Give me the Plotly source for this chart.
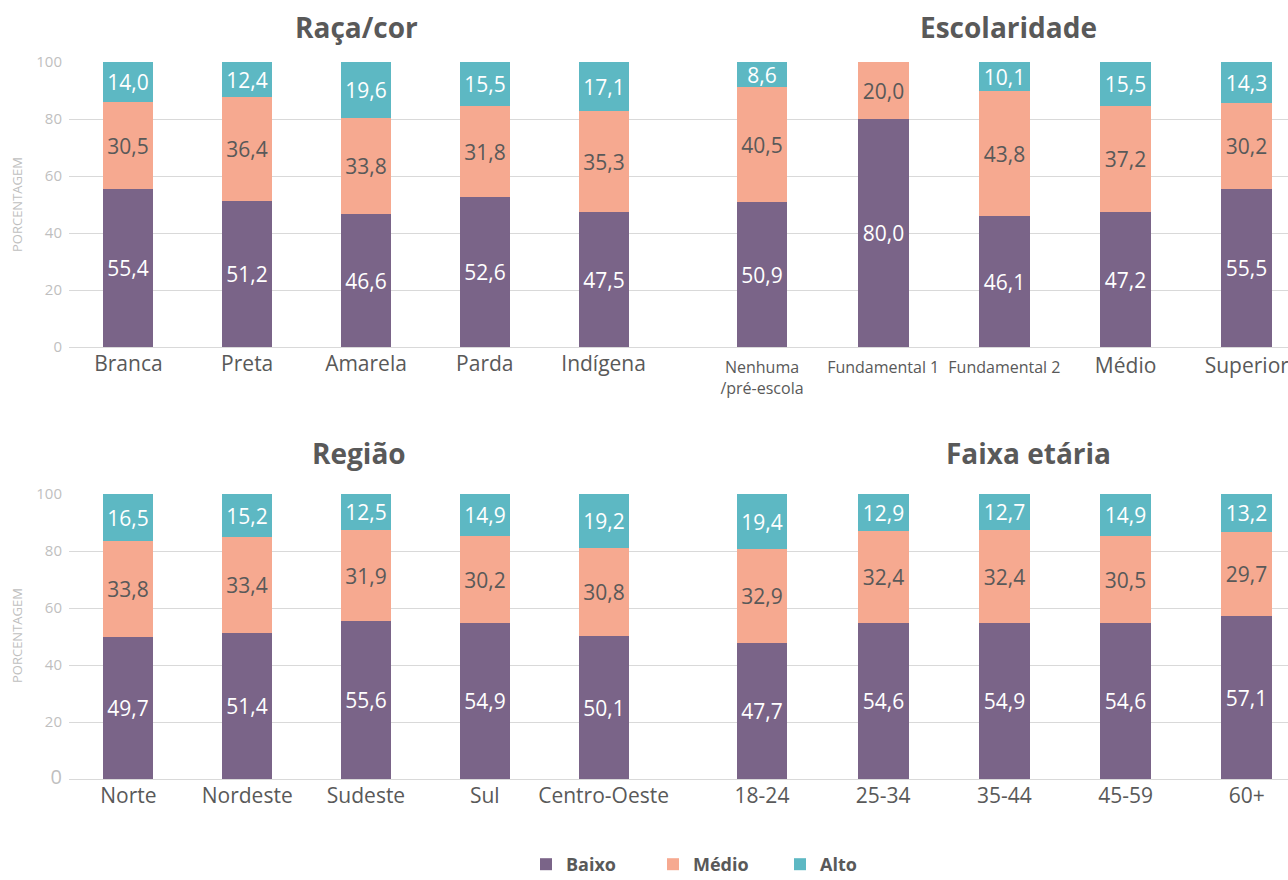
import plotly.graph_objects as go

# ---------------- data ----------------
levels = ["Baixo", "Médio", "Alto"]

raca_cats = ["Branca", "Preta", "Amarela", "Parda", "Indígena"]
raca_baixo = [55.4, 51.2, 46.6, 52.6, 47.5]
raca_medio = [30.5, 36.4, 33.8, 31.8, 35.3]
raca_alto = [14.0, 12.4, 19.6, 15.5, 17.1]

esc_cats = ["Nenhuma/pré-escola", "Fundamental 1", "Fundamental 2", "Médio", "Superior"]
esc_baixo = [50.9, 80.0, 46.1, 47.2, 55.5]
esc_medio = [40.5, 20.0, 43.8, 37.2, 30.2]
esc_alto = [8.6, None, 10.1, 15.5, 14.3]

reg_cats = ["Norte", "Nordeste", "Sudeste", "Sul", "Centro-Oeste"]
reg_baixo = [49.7, 51.4, 55.6, 54.9, 50.1]
reg_medio = [33.8, 33.4, 31.9, 30.2, 30.8]
reg_alto = [16.5, 15.2, 12.5, 14.9, 19.2]

idade_cats = ["18-24", "25-34", "35-44", "45-59", "60+"]
idade_baixo = [47.7, 54.6, 54.9, 54.6, 57.1]
idade_medio = [32.9, 32.4, 32.4, 30.5, 29.7]
idade_alto = [19.4, 12.9, 12.7, 14.9, 13.2]

y_ticks = [0, 20, 40, 60, 80, 100]

# ---------------- style ----------------
FONT = "Open Sans"
colors = {"Baixo": "#7A6488", "Médio": "#F6A990", "Alto": "#5DB8C3"}
text_colors = {"Baixo": "white", "Médio": "#595959", "Alto": "white"}
GRID = "#D9D9D9"
LABEL = "#595959"
TICK = "#BFBFBF"
W, H = 1288, 880


def fmt(v):
    return "" if v is None else f"{v:.1f}".replace(".", ",")


panels = [
    ("x", "y", raca_cats, [raca_baixo, raca_medio, raca_alto], True),
    ("x2", "y2", esc_cats, [esc_baixo, esc_medio, esc_alto], False),
    ("x3", "y3", reg_cats, [reg_baixo, reg_medio, reg_alto], False),
    ("x4", "y4", idade_cats, [idade_baixo, idade_medio, idade_alto], False),
]

fig = go.Figure()
for xa, ya, cats, series, show in panels:
    for lvl, vals in zip(levels, series):
        fig.add_trace(go.Bar(
            x=cats, y=vals, name=f"<b>{lvl}</b>", legendgroup=lvl, showlegend=show,
            xaxis=xa, yaxis=ya, width=0.42,
            marker=dict(color=colors[lvl], line=dict(width=0)),
            text=[fmt(v) for v in vals], textposition="inside",
            insidetextanchor="middle", textangle=0,
            textfont=dict(family=FONT, size=21, color=text_colors[lvl]),
            hoverinfo="skip",
        ))

left_dom = [69 / W, 682 / W]
right_dom = [682 / W, 1.0]
top_dom = [1 - 347 / H, 1 - 62 / H]
bot_dom = [1 - 779 / H, 1 - 494 / H]


def xaxis(dom, anchor, cats, rng, size=21, ticktext=None, standoff=2):
    d = dict(domain=dom, anchor=anchor, type="category", categoryarray=cats,
             range=rng, showgrid=False, showline=False, zeroline=False,
             ticks="", automargin=False, ticklabelstandoff=standoff,
             tickfont=dict(family=FONT, size=size, color=LABEL),
             fixedrange=True)
    if ticktext is not None:
        d.update(tickmode="array", tickvals=cats, ticktext=ticktext)
    return d


def yaxis(dom, anchor, labels, ticktext=None):
    d = dict(domain=dom, anchor=anchor, range=[0, 100], tickmode="array",
             tickvals=y_ticks, showgrid=True, gridcolor=GRID, gridwidth=1,
             zeroline=True, zerolinecolor=GRID, zerolinewidth=1,
             showline=False, ticks="", showticklabels=labels,
             ticklabelstandoff=6, automargin=False,
             tickfont=dict(family=FONT, size=15, color=TICK), fixedrange=True)
    if ticktext is not None:
        d["ticktext"] = ticktext
    return d


esc_ticktext = [
    "Nenhuma<br>/pré-escola", "Fundamental 1", "Fundamental 2",
    "<span style='font-size:21px'>Médio</span>",
    "<span style='font-size:21px'>Superior</span>",
]
bot_ytext = ["<span style='font-size:20px'>0</span>"] + [str(v) for v in y_ticks[1:]]

fig.update_layout(
    width=W, height=H,
    margin=dict(l=0, r=0, t=0, b=0, autoexpand=False),
    paper_bgcolor="white", plot_bgcolor="white",
    barmode="stack",
    bargap=0,
    uniformtext=dict(minsize=21, mode="show"),
    font=dict(family=FONT, color=LABEL),
    xaxis=xaxis(left_dom, "y", raca_cats, [-0.5, 4.66]),
    yaxis=yaxis(top_dom, "x", True),
    xaxis2=xaxis(right_dom, "y2", esc_cats, [-0.66, 4.34], size=16,
                 ticktext=esc_ticktext, standoff=9),
    yaxis2=yaxis(top_dom, "x2", False),
    xaxis3=xaxis(left_dom, "y3", reg_cats, [-0.5, 4.66]),
    yaxis3=yaxis(bot_dom, "x3", True, ticktext=bot_ytext),
    xaxis4=xaxis(right_dom, "y4", idade_cats, [-0.66, 4.34]),
    yaxis4=yaxis(bot_dom, "x4", False),
    legend=dict(orientation="h", x=526 / W, xanchor="left", y=1 - 846 / H, yanchor="top",
                font=dict(family=FONT, size=18, color=LABEL), traceorder="normal",
                entrywidth=82, entrywidthmode="pixels",
                bgcolor="rgba(0,0,0,0)"),
    showlegend=True,
)

titles = [("Raça/cor", 356, 27), ("Escolaridade", 1008, 27),
          ("Região", 359, 453), ("Faixa etária", 1028, 453)]
for txt, px, py in titles:
    fig.add_annotation(text=f"<b>{txt}</b>", xref="paper", yref="paper",
                       x=px / W, y=1 - py / H, xanchor="center", yanchor="middle",
                       showarrow=False, font=dict(family=FONT, size=28, color=LABEL))

for cy in (205, 636):
    fig.add_annotation(text="PORCENTAGEM", xref="paper", yref="paper",
                       x=17 / W, y=1 - cy / H, xanchor="center", yanchor="middle",
                       textangle=-90, showarrow=False,
                       font=dict(family=FONT, size=13, color=TICK))

fig.write_html("out.html", config={"displayModeBar": False},
               post_script="document.body.style.margin='0';")
